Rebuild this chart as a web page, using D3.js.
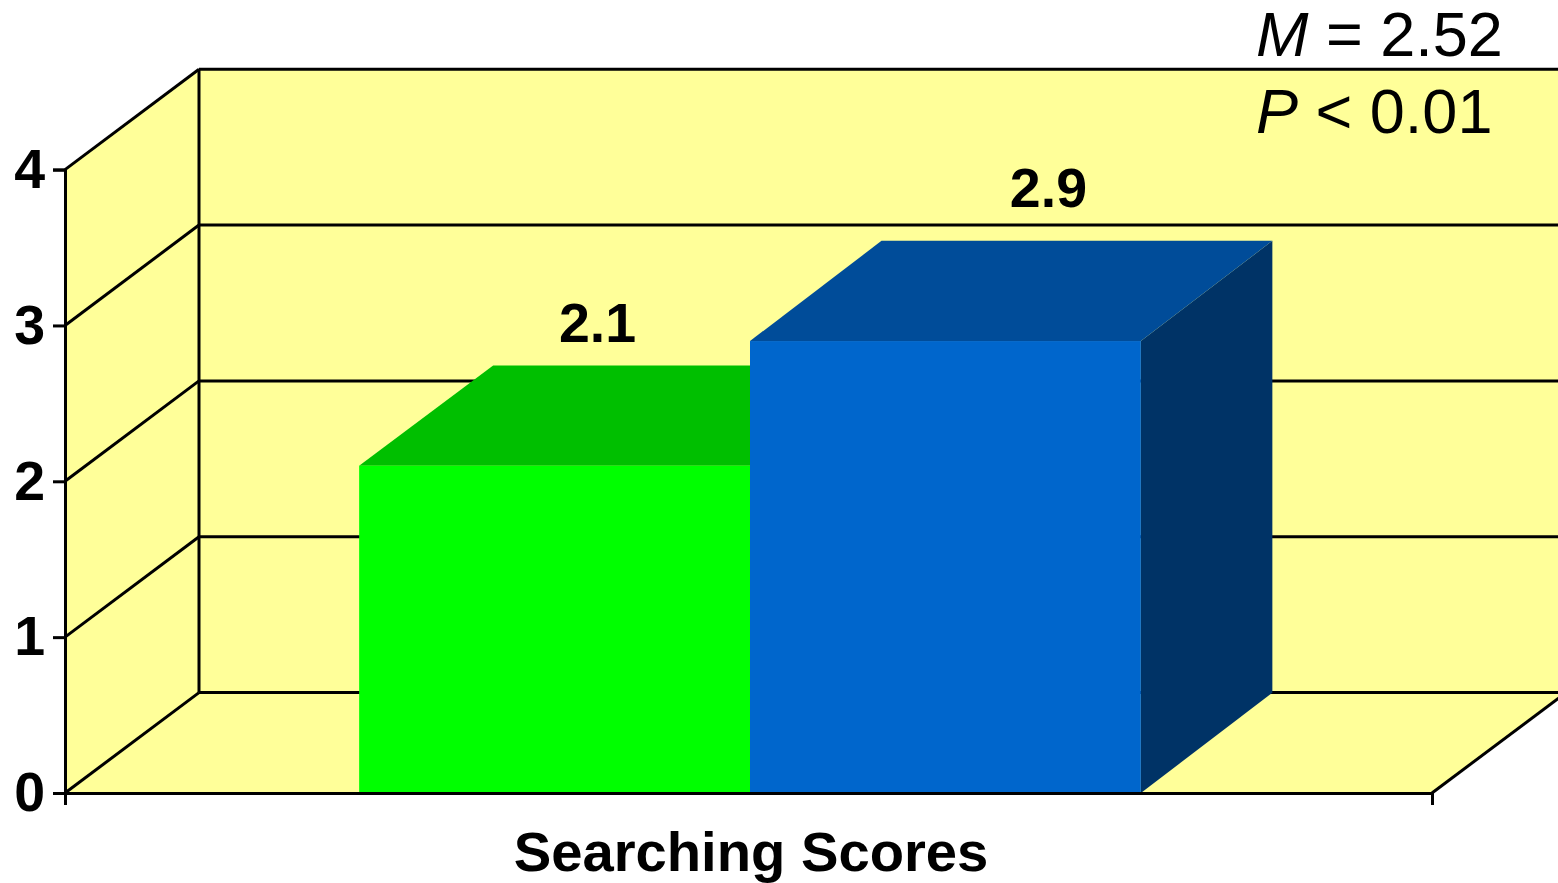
<!DOCTYPE html>
<html lang="en">
<head>
<meta charset="utf-8">
<title>Searching Scores</title>
<script src="https://cdn.jsdelivr.net/npm/d3@7"></script>
<style>
  html, body { margin: 0; background: #fff; overflow: hidden; }
  text { font-family: "Liberation Sans", Arial, sans-serif; fill: #000; }
  .axis text, .value, .cat { font-weight: 700; }
</style>
</head>
<body>
<div id="chart"></div>
<script>
// chart data
var category = "Searching Scores";
var groups = ["Group A", "Group B"];
var scores = [2.1, 2.9];
var yTicks = [0, 1, 2, 3, 4];
var notes = [["M", " = 2.52"], ["P", " < 0.01"]];

// bar colours: front, top, side
var frontColors = ["#00ff00", "#0066cc"];
var topColors = ["#00bf00", "#004c99"];
var sideColors = ["#008000", "#003366"];

var width = 1558, height = 883;
var wallColor = "#ffff99";
var lineW = 3;

// front plane of the box and how far the back wall is pushed away
var left = 65, right = 1432, bottom = 793, top4 = 169.6;
var depthX = 134, depthY = 100.4;
// bars sit slightly in front of the back wall
var barDepthX = [134, 131.5], barDepthY = 100.2;

var svg = d3.select("#chart").append("svg")
    .attr("width", width)
    .attr("height", height)
    .style("display", "block");

var y = d3.scaleLinear().domain([0, 4]).range([bottom, top4]);

var x = d3.scaleBand()
    .domain(groups)
    .range([left + 1, right + 2])
    .paddingInner(0)
    .paddingOuter(0.75);

function poly(pts) {
  return "M" + pts.map(function(p) { return p.join(","); }).join("L") + "Z";
}

// walls and floor
var walls = svg.append("g");
walls.append("path")
    .attr("fill", wallColor)
    .attr("d", poly([[left, y(0)], [left, y(4)], [left + depthX, y(4) - depthY], [width + 20, y(4) - depthY],
                     [width + 20, y(0) - depthY], [right + depthX, y(0) - depthY], [right, y(0)]]));

// gridlines: diagonal on the side wall, level on the back wall
var grid = svg.append("g")
    .attr("stroke", "#000")
    .attr("stroke-width", lineW)
    .attr("fill", "none");

grid.selectAll(".diag")
  .data(yTicks)
  .enter().append("line")
    .attr("x1", left)
    .attr("y1", function(d) { return y(d); })
    .attr("x2", left + depthX)
    .attr("y2", function(d) { return y(d) - depthY; });

grid.selectAll(".back")
  .data(yTicks)
  .enter().append("line")
    .attr("x1", left + depthX)
    .attr("y1", function(d) { return y(d) - depthY; })
    .attr("x2", width + 20)
    .attr("y2", function(d) { return y(d) - depthY; });

grid.append("line")
    .attr("x1", left + depthX).attr("x2", left + depthX)
    .attr("y1", y(4) - depthY).attr("y2", y(0) - depthY);

grid.append("line")
    .attr("x1", right).attr("y1", y(0))
    .attr("x2", right + depthX).attr("y2", y(0) - depthY);

// bars
var bars = svg.selectAll(".bar")
  .data(scores)
  .enter().append("g")
    .attr("class", "bar");

bars.append("path")
    .attr("fill", function(d, i) { return sideColors[i]; })
    .attr("d", function(d, i) {
      var x1 = x(groups[i]) + x.bandwidth(), dx = barDepthX[i];
      return poly([[x1, y(0)], [x1, y(d)], [x1 + dx, y(d) - barDepthY], [x1 + dx, y(0) - barDepthY]]);
    });

bars.append("path")
    .attr("fill", function(d, i) { return topColors[i]; })
    .attr("d", function(d, i) {
      var x0 = x(groups[i]), x1 = x0 + x.bandwidth(), dx = barDepthX[i];
      return poly([[x0, y(d)], [x0 + dx, y(d) - barDepthY], [x1 + dx, y(d) - barDepthY], [x1, y(d)]]);
    });

bars.append("rect")
    .attr("fill", function(d, i) { return frontColors[i]; })
    .attr("x", function(d, i) { return x(groups[i]); })
    .attr("y", function(d) { return y(d); })
    .attr("width", x.bandwidth())
    .attr("height", function(d) { return y(0) - y(d); });

// value labels above the bars
var labelShift = [[43, -124], [103, -134]];
svg.selectAll(".value")
  .data(scores)
  .enter().append("text")
    .attr("class", "value")
    .attr("text-anchor", "middle")
    .attr("font-size", 55.5)
    .attr("x", function(d, i) { return x(groups[i]) + x.bandwidth() / 2 + labelShift[i][0]; })
    .attr("y", function(d, i) { return y(d) + labelShift[i][1]; })
    .text(function(d) { return d3.format(".1f")(d); });

// y axis
var yAxis = svg.append("g")
    .attr("class", "axis")
    .attr("transform", "translate(" + left + ",0)")
    .call(d3.axisLeft(y).tickValues(yTicks).tickFormat(d3.format("d")).tickSize(12).tickPadding(8));
yAxis.select(".domain").attr("stroke-width", lineW);
yAxis.selectAll("line").attr("stroke-width", lineW);
yAxis.selectAll("text").attr("font-size", 55.5).attr("font-family", null);

// x axis with end ticks only
var xAxis = svg.append("g")
    .attr("transform", "translate(0," + bottom + ")");
xAxis.call(d3.axisBottom(d3.scaleLinear().domain([left, right]).range([left, right]))
    .tickValues([left, right]).tickFormat("").tickSize(12).tickSizeOuter(0));
xAxis.select(".domain").attr("stroke-width", lineW);
xAxis.selectAll("line").attr("stroke-width", lineW);

svg.append("text")
    .attr("class", "cat")
    .attr("text-anchor", "middle")
    .attr("font-size", 56.2)
    .attr("x", 751)
    .attr("y", 871)
    .text(category);

// statistics in the top corner
svg.selectAll(".note")
  .data(notes)
  .enter().append("text")
    .attr("class", "note")
    .attr("font-size", 63)
    .attr("x", 1256)
    .attr("y", function(d, i) { return 56 + i * 77; })
    .each(function(d) {
      d3.select(this).append("tspan").attr("font-style", "italic").text(d[0]);
      d3.select(this).append("tspan").attr("xml:space", "preserve").text(d[1]);
    });
</script>
</body>
</html>
